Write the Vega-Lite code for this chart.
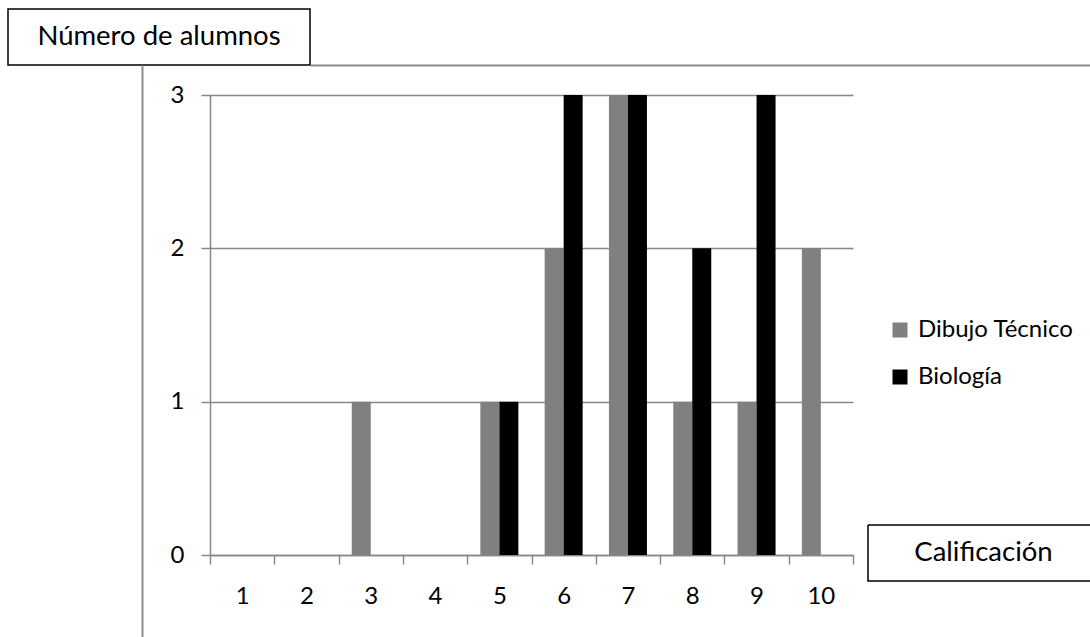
{
  "$schema": "https://vega.github.io/schema/vega-lite/v6.json",
  "padding": {"left": 7, "top": 8, "right": 0, "bottom": 0},
  "background": "white",
  "config": {
    "font": "Lato",
    "view": {"stroke": null},
    "axis": {
      "labelFont": "Lato",
      "labelColor": "#000000",
      "domainColor": "#888888",
      "tickColor": "#888888",
      "gridColor": "#888888"
    },
    "legend": {"labelFont": "Lato", "labelColor": "#000000"}
  },
  "datasets": {
    "notas": [
      {"calificacion": 1, "asignatura": "Dibujo Técnico", "alumnos": 0},
      {"calificacion": 2, "asignatura": "Dibujo Técnico", "alumnos": 0},
      {"calificacion": 3, "asignatura": "Dibujo Técnico", "alumnos": 1},
      {"calificacion": 4, "asignatura": "Dibujo Técnico", "alumnos": 0},
      {"calificacion": 5, "asignatura": "Dibujo Técnico", "alumnos": 1},
      {"calificacion": 6, "asignatura": "Dibujo Técnico", "alumnos": 2},
      {"calificacion": 7, "asignatura": "Dibujo Técnico", "alumnos": 3},
      {"calificacion": 8, "asignatura": "Dibujo Técnico", "alumnos": 1},
      {"calificacion": 9, "asignatura": "Dibujo Técnico", "alumnos": 1},
      {"calificacion": 10, "asignatura": "Dibujo Técnico", "alumnos": 2},
      {"calificacion": 1, "asignatura": "Biología", "alumnos": 0},
      {"calificacion": 2, "asignatura": "Biología", "alumnos": 0},
      {"calificacion": 3, "asignatura": "Biología", "alumnos": 0},
      {"calificacion": 4, "asignatura": "Biología", "alumnos": 0},
      {"calificacion": 5, "asignatura": "Biología", "alumnos": 1},
      {"calificacion": 6, "asignatura": "Biología", "alumnos": 3},
      {"calificacion": 7, "asignatura": "Biología", "alumnos": 3},
      {"calificacion": 8, "asignatura": "Biología", "alumnos": 2},
      {"calificacion": 9, "asignatura": "Biología", "alumnos": 3},
      {"calificacion": 10, "asignatura": "Biología", "alumnos": 0}
    ]
  },
  "bounds": "flush",
  "spacing": 0,
  "vconcat": [
    {
      "width": 302,
      "height": 56,
      "view": {"stroke": "#000000", "strokeWidth": 1.5},
      "data": {"values": [{"rotulo": "Número de alumnos"}]},
      "mark": {"type": "text", "fontSize": 27.5, "color": "#000000"},
      "encoding": {"text": {"field": "rotulo"}}
    },
    {
      "bounds": "flush",
      "spacing": 0,
      "hconcat": [
        {
          "width": 860,
          "height": 490,
          "data": {"name": "notas"},
          "layer": [
            {
              "mark": {"type": "bar"},
              "encoding": {
                "x": {
                  "field": "calificacion",
                  "type": "ordinal",
                  "scale": {"range": [202, 845], "paddingInner": 0, "paddingOuter": 0},
                  "axis": {
                    "title": null,
                    "labelAngle": 0,
                    "tickBand": "extent",
                    "tickSize": 9,
                    "tickWidth": 1.5,
                    "domainWidth": 1.5,
                    "labelFontSize": 24,
                    "labelPadding": 20,
                    "grid": false
                  }
                },
                "xOffset": {
                  "field": "asignatura",
                  "type": "nominal",
                  "sort": ["Dibujo Técnico", "Biología"],
                  "scale": {"paddingInner": 0, "paddingOuter": 0.692}
                },
                "y": {
                  "field": "alumnos",
                  "type": "quantitative",
                  "scale": {"domain": [0, 3], "range": [490, 30], "nice": false},
                  "axis": {
                    "title": null,
                    "offset": -202,
                    "values": [0, 1, 2, 3],
                    "format": "d",
                    "tickSize": 9,
                    "tickWidth": 1.5,
                    "domainWidth": 1.5,
                    "labelPadding": 17,
                    "labelFontSize": 24,
                    "grid": true,
                    "gridWidth": 1.5
                  }
                },
                "color": {
                  "field": "asignatura",
                  "type": "nominal",
                  "scale": {"domain": ["Dibujo Técnico", "Biología"], "range": ["#808080", "#000000"]},
                  "legend": {
                    "title": null,
                    "orient": "none",
                    "legendX": 880,
                    "legendY": 309,
                    "padding": 0,
                    "symbolType": "square",
                    "symbolSize": 225,
                    "symbolStrokeWidth": 0,
                    "symbolOpacity": 1,
                    "labelFontSize": 24,
                    "labelOffset": 6,
                    "rowPadding": 23
                  }
                }
              }
            },
            {
              "data": {"values": [{"v": 0}]},
              "mark": {"type": "point", "opacity": 0},
              "encoding": {
                "x": {
                  "field": "v",
                  "type": "quantitative",
                  "scale": {"domain": [0, 1], "range": [302, 1083]},
                  "axis": {"orient": "top", "offset": 0, "labels": false, "ticks": false, "grid": false, "title": null, "domainColor": "#8c8c8c", "domainWidth": 2}
                },
                "y": {
                  "field": "v",
                  "type": "quantitative",
                  "scale": {"domain": [0, 1], "range": [573, 0]},
                  "axis": {"orient": "left", "offset": -134, "labels": false, "ticks": false, "grid": false, "title": null, "domainColor": "#8c8c8c", "domainWidth": 2}
                }
              }
            }
          ],
          "resolve": {
            "scale": {"x": "independent", "y": "independent"},
            "axis": {"x": "independent", "y": "independent"}
          }
        },
        {
          "bounds": "flush",
          "spacing": 0,
          "vconcat": [
            {
              "width": 223,
              "height": 460,
              "data": {"values": []},
              "mark": "text",
              "encoding": {}
            },
            {
              "width": 223,
              "height": 56,
              "view": {"stroke": "#000000", "strokeWidth": 1.5, "strokeDash": [223, 56, 279, 0]},
              "data": {"values": [{"rotulo": "Calificación"}]},
              "mark": {"type": "text", "fontSize": 27.5, "color": "#000000", "dx": 4},
              "encoding": {"text": {"field": "rotulo"}}
            }
          ]
        }
      ]
    }
  ]
}
